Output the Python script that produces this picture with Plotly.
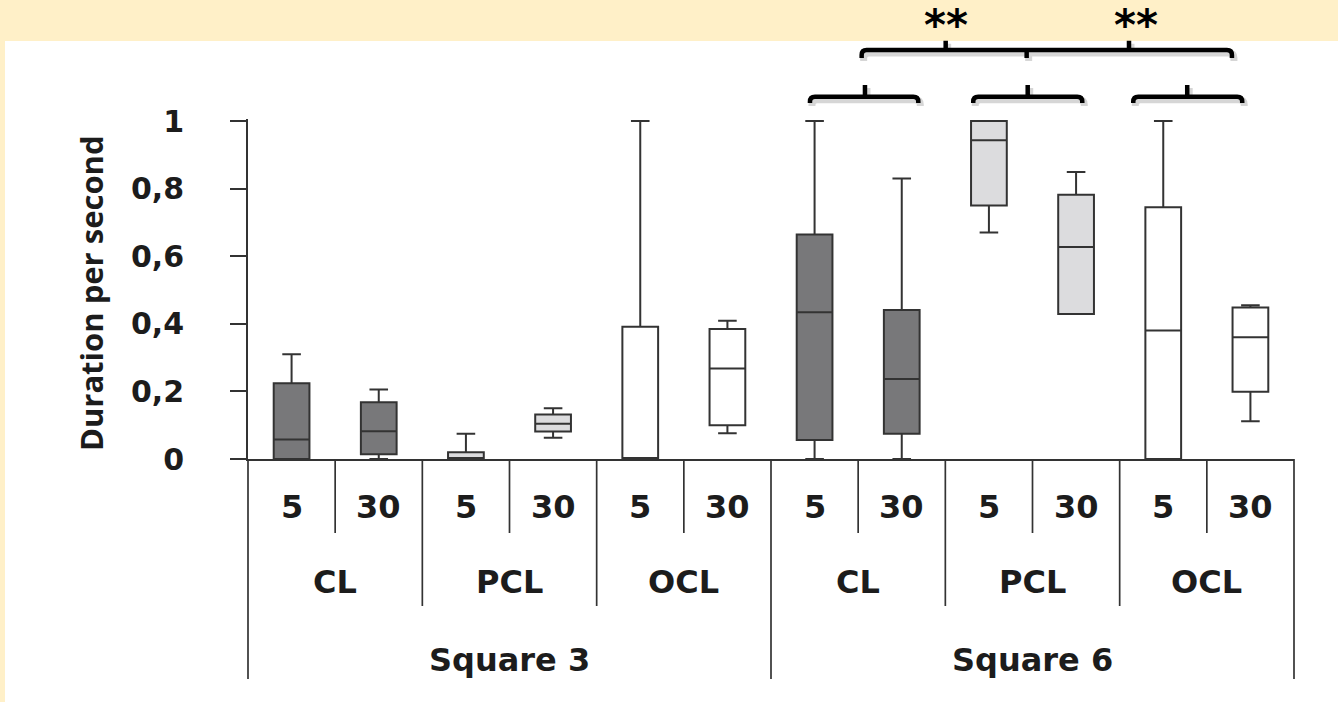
import plotly.graph_objects as go

# ---------------- data ----------------
durations = ["5", "30"] * 6
conditions = ["CL", "PCL", "OCL"]
squares = ["Square 3", "Square 6"]
tick_vals = [0, 0.2, 0.4, 0.6, 0.8, 1.0]
tick_text = ["0", "0,2", "0,4", "0,6", "0,8", "1"]

lower_fence = [0.0, 0.0, 0.0, 0.063, 0.0, 0.076, 0.0, 0.0, 0.670, 0.429, 0.0, 0.112]
q1_vals     = [0.0, 0.014, 0.0, 0.081, 0.0, 0.100, 0.056, 0.075, 0.750, 0.429, 0.0, 0.199]
median_vals = [0.058, 0.082, 0.0, 0.104, 0.0, 0.268, 0.434, 0.237, 0.943, 0.627, 0.380, 0.360]
q3_vals     = [0.224, 0.168, 0.020, 0.132, 0.391, 0.385, 0.664, 0.441, 1.000, 0.782, 0.745, 0.448]
upper_fence = [0.310, 0.206, 0.075, 0.150, 1.000, 0.409, 1.000, 0.830, 1.000, 0.849, 1.000, 0.455]

# significance brackets (in category units: 0..11)
small_brackets = [(5.947, 7.190, 6.578), (7.820, 9.071, 8.445), (9.656, 10.906, 10.275)]
big_bracket = (6.540, 10.788, 8.433, [7.504, 9.607])
star_positions = [7.505, 9.685]
star_text = "**"

# ---------------- layout constants ----------------
W, H = 1338, 702
ML, MR, MT, MB = 248, 44, 119, 243
PW = W - ML - MR
PH = H - MT - MB
NCAT = len(durations)
YMAX = 1.006
FILL = {"CL": "#78787a", "PCL": "#dcdcde", "OCL": "#ffffff"}
LINE = "#333333"
TXT = "#1c1c1c"
YELLOW = "#fff0c8"
LABEL_FONT = dict(family="DejaVu Sans", size=32, color=TXT, weight="bold")


def cx(u):  # category unit -> paper x
    return (u + 0.5) / NCAT


def px_x(px):  # pixel -> paper x
    return (px - ML) / PW


def px_y(py):  # pixel -> paper y
    return (H - MB - py) / PH


fig = go.Figure()

# boxes, one trace per condition
for ci, cond in enumerate(conditions):
    idx = [i for i in range(NCAT) if (i // 2) % 3 == ci]
    fig.add_trace(go.Box(
        x=idx,
        q1=[q1_vals[i] for i in idx],
        median=[median_vals[i] for i in idx],
        q3=[q3_vals[i] for i in idx],
        lowerfence=[lower_fence[i] for i in idx],
        upperfence=[upper_fence[i] for i in idx],
        name=cond,
        width=0.41,
        whiskerwidth=0.52,
        fillcolor=FILL[cond],
        line=dict(color=LINE, width=2),
        boxpoints=False,
        hoverinfo="skip",
        showlegend=False,
    ))

shapes = []
# background decorations
shapes.append(dict(type="rect", xref="paper", yref="paper", layer="below",
                   x0=px_x(0), x1=px_x(W), y0=px_y(41), y1=px_y(0),
                   fillcolor=YELLOW, line=dict(width=0)))
shapes.append(dict(type="rect", xref="paper", yref="paper", layer="below",
                   x0=px_x(0), x1=px_x(5), y0=px_y(H), y1=px_y(41),
                   fillcolor=YELLOW, line=dict(width=0)))

# hierarchical category separators
for k in range(NCAT + 1):
    if k % 6 == 0:
        ybot = px_y(679)
    elif k % 2 == 0:
        ybot = px_y(606)
    else:
        ybot = px_y(533)
    shapes.append(dict(type="line", xref="paper", yref="paper",
                       x0=k / NCAT, x1=k / NCAT, y0=0, y1=ybot,
                       line=dict(color=LINE, width=1.7)))

# brackets
rx, ry = 5 / PW, 5 / PH


def bracket_path(x0, x1, yline, yend, dx=0.0, dy=0.0):
    a, b = cx(x0) + dx, cx(x1) + dx
    yl, ye = yline + dy, yend + dy
    return (f"M {a},{ye} L {a},{yl - ry} Q {a},{yl} {a + rx},{yl} "
            f"L {b - rx},{yl} Q {b},{yl} {b},{yl - ry} L {b},{ye}")


def add_bracket(path_main, extra):
    sdx, sdy = 2 / PW, -3 / PH
    shadow = path_main(sdx, sdy) + extra(sdx, sdy)
    shapes.append(dict(type="path", xref="paper", yref="paper", path=shadow,
                       line=dict(color="rgba(0,0,0,0.16)", width=7)))
    shapes.append(dict(type="path", xref="paper", yref="paper",
                       path=path_main(0, 0) + extra(0, 0),
                       line=dict(color="black", width=4.5)))


ys_line, ys_end, ys_top = px_y(96.7), px_y(103), px_y(85)
for (b0, b1, bt) in small_brackets:
    add_bracket(lambda dx, dy, b0=b0, b1=b1: bracket_path(b0, b1, ys_line, ys_end, dx, dy),
                lambda dx, dy, bt=bt: f" M {cx(bt) + dx},{ys_line + dy} L {cx(bt) + dx},{ys_top + dy}")

yb_line, yb_end, yb_top = px_y(50), px_y(58), px_y(40.7)
b0, b1, bdown, bups = big_bracket


def big_extra(dx, dy):
    s = f" M {cx(bdown) + dx},{yb_line + dy} L {cx(bdown) + dx},{yb_end + dy}"
    for u in bups:
        s += f" M {cx(u) + dx},{yb_line + dy} L {cx(u) + dx},{yb_top + dy}"
    return s


add_bracket(lambda dx, dy: bracket_path(b0, b1, yb_line, yb_end, dx, dy), big_extra)

annotations = []
# duration labels
for i, d in enumerate(durations):
    annotations.append(dict(text=d, x=cx(i), y=px_y(507), xref="paper", yref="paper",
                            showarrow=False, xanchor="center", yanchor="middle", font=LABEL_FONT))
# condition labels
for g in range(6):
    annotations.append(dict(text=conditions[g % 3], x=cx(2 * g + 0.5), y=px_y(582),
                            xref="paper", yref="paper", showarrow=False,
                            xanchor="center", yanchor="middle", font=LABEL_FONT))
# square labels
for s, name in enumerate(squares):
    annotations.append(dict(text=name, x=cx(6 * s + 2.5), y=px_y(660),
                            xref="paper", yref="paper", showarrow=False,
                            xanchor="center", yanchor="middle", font=LABEL_FONT))
# y title
annotations.append(dict(text="Duration per second", textangle=-90,
                        x=px_x(91), y=px_y(293), xref="paper", yref="paper",
                        showarrow=False, xanchor="center", yanchor="middle",
                        font=dict(family="Open Sans", size=31, color=TXT, weight="bold")))
# stars
for u in star_positions:
    annotations.append(dict(text=star_text, x=cx(u), y=px_y(25), xref="paper", yref="paper",
                            showarrow=False, xanchor="center", yanchor="middle",
                            font=dict(family="DejaVu Sans", size=42, color="black", weight="bold")))

fig.update_layout(
    width=W, height=H,
    margin=dict(l=ML, r=MR, t=MT, b=MB, pad=0),
    paper_bgcolor="white", plot_bgcolor="white",
    boxmode="overlay",
    shapes=shapes,
    annotations=annotations,
    xaxis=dict(range=[-0.5, NCAT - 0.5], showgrid=False, zeroline=False,
               showticklabels=False, ticks="", showline=True,
               linecolor=LINE, linewidth=1.8, fixedrange=True),
    yaxis=dict(range=[0, YMAX], showgrid=False, zeroline=False,
               tickvals=tick_vals, ticktext=tick_text,
               ticks="outside", ticklen=16, tickwidth=1.8, tickcolor=LINE,
               showline=True, linecolor=LINE, linewidth=1.8,
               ticklabelstandoff=40,
               tickfont=dict(family="DejaVu Sans", size=30, color=TXT, weight="bold"),
               fixedrange=True),
)

fig.write_html(
    "out.html",
    config={"displayModeBar": False},
    post_script="document.body.style.margin='0';document.body.style.overflow='hidden';",
)
